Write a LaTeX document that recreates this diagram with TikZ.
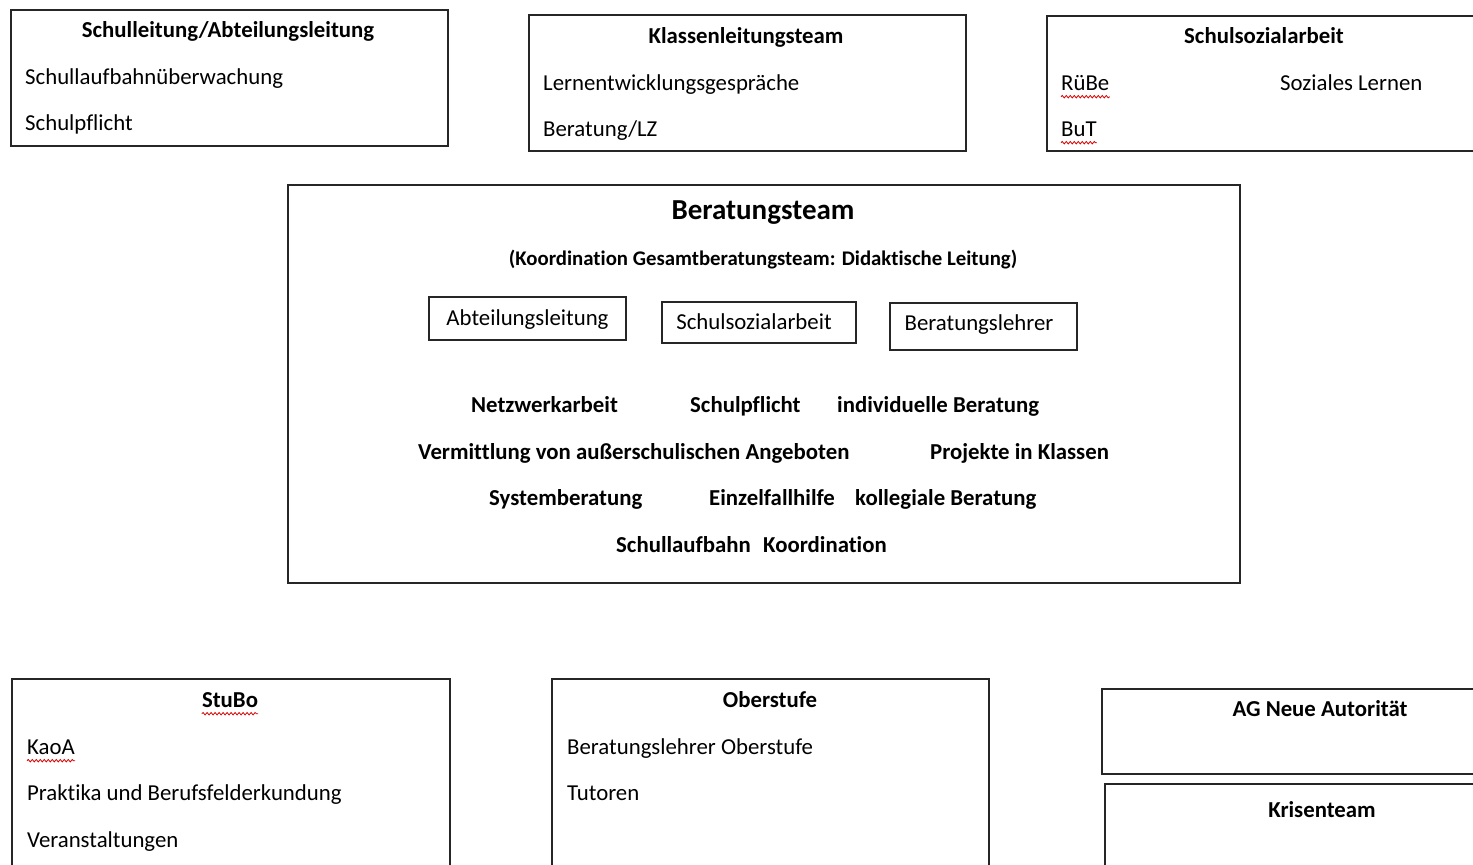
\documentclass[tikz,border=0pt]{standalone}
\usepackage{fontspec}
\setmainfont[Ligatures={NoCommon}]{Carlito}
\usetikzlibrary{decorations.pathmorphing}
\tikzset{
  box/.style={draw=black!85, line width=1.4pt},
  txt/.style={inner sep=0pt, anchor=west, yshift=-5pt, text height=0.7em, text depth=0.2em, font=\fontsize{22.8}{27}\selectfont},
  ctxt/.style={txt, anchor=center},
  btxt/.style={txt, font=\fontsize{22.8}{27}\selectfont\bfseries},
  cbtxt/.style={btxt, anchor=center},
  wavy/.style={draw=red!85!black, line width=0.8pt, decorate, decoration={snake, amplitude=1.2pt, segment length=4pt}}
}
\begin{document}
\begin{tikzpicture}[x=1pt,y=-1pt]
\useasboundingbox (0,0) rectangle (1473,865);
\clip (0,0) rectangle (1473,865);
% top boxes
\draw[box] (11,10) rectangle (448,146);
\node[cbtxt] (t1) at (228,30) {Schulleitung/Abteilungsleitung};
\node[txt] (a1) at (25,77) {Schullaufbahnüberwachung};
\node[txt] (a2) at (25,123) {Schulpflicht};

\draw[box] (529,15) rectangle (966,151);
\node[cbtxt] (t2) at (746,36) {Klassenleitungsteam};
\node[txt] (b1) at (543,83) {Lernentwicklungsgespräche};
\node[txt] (b2) at (543,129) {Beratung/LZ};

\draw[box] (1047,16) rectangle (1490,151);
\node[cbtxt] (t3) at (1264,36) {Schulsozialarbeit};
\node[txt] (c1) at (1061,83) {RüBe};
\node[txt] (c2) at (1061,129) {BuT};
\node[txt] (c3) at (1280,83) {Soziales Lernen};
\draw[wavy] ([yshift=-4pt]c1.south west) -- ([yshift=-4pt]c1.south east);
\draw[wavy] ([yshift=-4pt]c2.south west) -- ([yshift=-4pt]c2.south east);

% central box
\draw[box] (288,185) rectangle (1240,583);
\node[inner sep=0pt, yshift=-3pt, font=\fontsize{29}{34}\selectfont\bfseries] (t4) at (763,210) {Beratungsteam};
\node[inner sep=0pt, yshift=-2pt, font=\fontsize{20.8}{25}\selectfont\bfseries] (t5) at (763,258) {(Koordination Gesamtberatungsteam: Didaktische Leitung)};
\draw[box, line width=1.2pt] (429,297) rectangle (626,340);
\node[ctxt] (i1) at (527.5,318) {Abteilungsleitung};
\draw[box, line width=1.2pt] (662,302) rectangle (856,343);
\node[ctxt] (i2) at (754,322) {Schulsozialarbeit};
\draw[box, line width=1.2pt] (890,303) rectangle (1077,350);
\node[ctxt] (i3) at (979,323) {Beratungslehrer};

\node[btxt] (d1) at (471,405) {Netzwerkarbeit};
\node[btxt] (d2) at (690,405) {Schulpflicht};
\node[btxt] (d3) at (837,405) {individuelle Beratung};
\node[btxt] (d4) at (418,452) {Vermittlung von außerschulischen Angeboten};
\node[btxt] (d5) at (930,452) {Projekte in Klassen};
\node[btxt] (d6) at (489,498) {Systemberatung};
\node[btxt] (d7) at (709,498) {Einzelfallhilfe};
\node[btxt] (d8) at (855,498) {kollegiale Beratung};
\node[btxt] (d9) at (616,545) {Schullaufbahn};
\node[btxt] (d10) at (763,545) {Koordination};

% bottom boxes
\draw[box] (12,679) rectangle (450,880);
\node[cbtxt] (t6) at (230,700) {StuBo};
\draw[wavy] ([yshift=-4pt]t6.south west) -- ([yshift=-4pt]t6.south east);
\node[txt] (e1) at (27,747) {KaoA};
\draw[wavy] ([yshift=-4pt]e1.south west) -- ([yshift=-4pt]e1.south east);
\node[txt] (e2) at (27,793) {Praktika und Berufsfelderkundung};
\node[txt] (e3) at (27,840) {Veranstaltungen};

\draw[box] (552,679) rectangle (989,880);
\node[cbtxt] (t7) at (770,700) {Oberstufe};
\node[txt] (f1) at (567,747) {Beratungslehrer Oberstufe};
\node[txt] (f2) at (567,793) {Tutoren};

\draw[box] (1102,689) rectangle (1490,774);
\node[cbtxt] (t8) at (1320,709) {AG Neue Autorität};
\draw[box] (1105,784) rectangle (1490,880);
\node[cbtxt] (t9) at (1322,810) {Krisenteam};
\end{tikzpicture}
\end{document}
